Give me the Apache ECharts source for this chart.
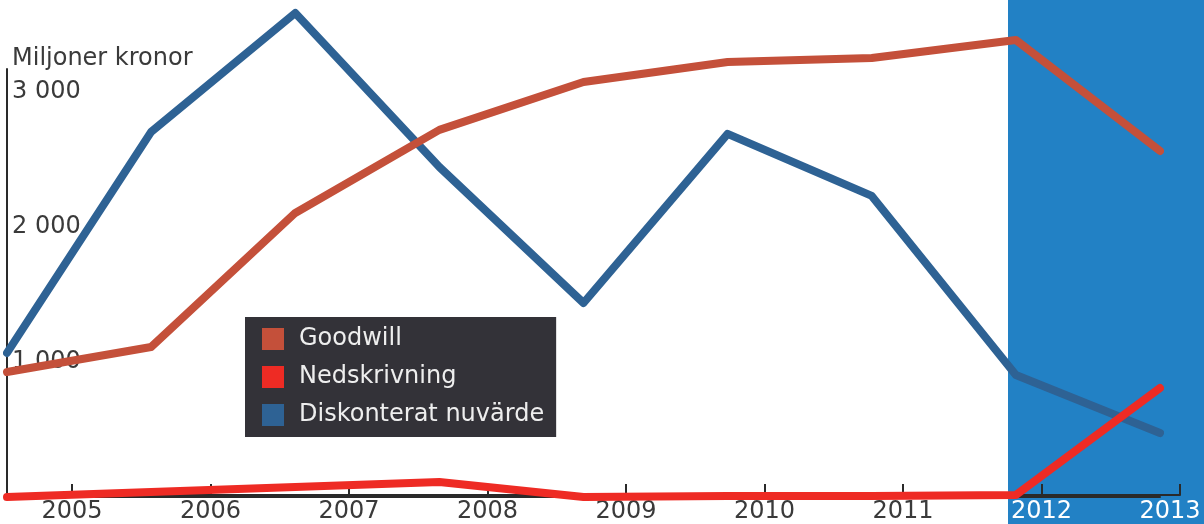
<!DOCTYPE html>
<html>
<head>
<meta charset="utf-8">
<script src="https://cdn.jsdelivr.net/npm/echarts@6/dist/echarts.min.js"></script>
<style>
html,body{margin:0;padding:0;background:#fff;}
#chart{width:1204px;height:524px;}
</style>
</head>
<body>
<div id="chart"></div>
<script>
var years = ['2005','2006','2007','2008','2009','2010','2011','2012','2013'];
var goodwill = [926, 1111, 2104, 2719, 3074, 3222, 3252, 3385, 2563];
var nedskrivning = [0, 37, 74, 111, 0, 7, 7, 15, 807];
var diskonterat = [1067, 2704, 3585, 2444, 1437, 2689, 2230, 904, 474];
var yTicks = [1000, 2000, 3000];
var names = ['Goodwill', 'Nedskrivning', 'Diskonterat nuvärde'];
var colors = ['#c4503a', '#ee2b24', '#2e6294'];

var FONT = 'DejaVu Sans';
var chart = echarts.init(document.getElementById('chart'), null, {renderer: 'canvas'});

function fmtThousand(v) {
  return String(v).replace(/\B(?=(\d{3})+(?!\d))/g, ' ');
}

var option = {
  backgroundColor: '#ffffff',
  animation: false,
  title: {
    text: 'Miljoner kronor',
    left: 7,
    top: 42,
    textStyle: {fontFamily: FONT, fontSize: 24, fontWeight: 'normal', color: '#3a3a3a'}
  },
  graphic: [{
    type: 'rect',
    left: 1008, top: 0,
    shape: {width: 196, height: 524},
    style: {fill: '#2281c5'},
    z: -10
  }],
  legend: {
    data: names,
    orient: 'vertical',
    left: 245,
    top: 317,
    backgroundColor: '#333238',
    padding: [10, 12, 10, 17],
    itemWidth: 22,
    itemHeight: 22,
    itemGap: 14,
    icon: 'rect',
    textStyle: {fontFamily: FONT, fontSize: 24, color: '#eeeeee', padding: [0, 0, 0, 10]}
  },
  grid: [
    {left: 72, right: 24, top: 69, bottom: 27, containLabel: false},
    {left: 7, right: 44, top: 69, bottom: 27, containLabel: false}
  ],
  xAxis: [
    {
      type: 'category', gridIndex: 0, data: years, boundaryGap: false,
      axisLine: {show: true, lineStyle: {color: '#2a2a2a', width: 2}},
      axisTick: {show: true, inside: true, length: 11, lineStyle: {color: '#2a2a2a', width: 2}},
      axisLabel: {
        show: true, margin: 5, interval: 0,
        fontFamily: FONT, fontSize: 24,
        color: function (v, i) { return i >= 7 ? '#ffffff' : '#3a3a3a'; },
        formatter: function (v, i) { return i === 8 ? '{e|' + v + '}' : v; },
        rich: {e: {fontFamily: FONT, fontSize: 24, color: '#ffffff', padding: [0, 20, 0, 0]}}
      },
      splitLine: {show: false}
    },
    {
      type: 'category', gridIndex: 1, data: years, boundaryGap: false,
      axisLine: {show: true, lineStyle: {color: '#2a2a2a', width: 2}},
      axisTick: {show: false},
      axisLabel: {show: false},
      splitLine: {show: false}
    }
  ],
  yAxis: [
    {
      type: 'value', gridIndex: 0, min: 0, max: 3170, show: false, splitLine: {show: false}
    },
    {
      type: 'value', gridIndex: 1, min: 0, max: 3170, interval: 1000,
      axisLine: {show: true, lineStyle: {color: '#2a2a2a', width: 2}},
      axisTick: {show: false},
      splitLine: {show: false},
      axisLabel: {
        inside: true, margin: 5, showMinLabel: false, showMaxLabel: false,
        fontFamily: FONT, fontSize: 24, color: '#3a3a3a',
        formatter: function (v) { return yTicks.indexOf(v) >= 0 ? fmtThousand(v) : ''; }
      }
    }
  ],
  series: [
    {
      name: names[2], type: 'line', xAxisIndex: 1, yAxisIndex: 1, data: diskonterat,
      symbol: 'none', clip: false, color: colors[2],
      lineStyle: {width: 8, color: colors[2], cap: 'round', join: 'round'}, z: 2
    },
    {
      name: names[0], type: 'line', xAxisIndex: 1, yAxisIndex: 1, data: goodwill,
      symbol: 'none', clip: false, color: colors[0],
      lineStyle: {width: 8, color: colors[0], cap: 'round', join: 'round'}, z: 3
    },
    {
      name: names[1], type: 'line', xAxisIndex: 1, yAxisIndex: 1, data: nedskrivning,
      symbol: 'none', clip: false, color: colors[1],
      lineStyle: {width: 8, color: colors[1], cap: 'round', join: 'round'}, z: 4
    }
  ]
};
chart.setOption(option);
</script>
</body>
</html>
